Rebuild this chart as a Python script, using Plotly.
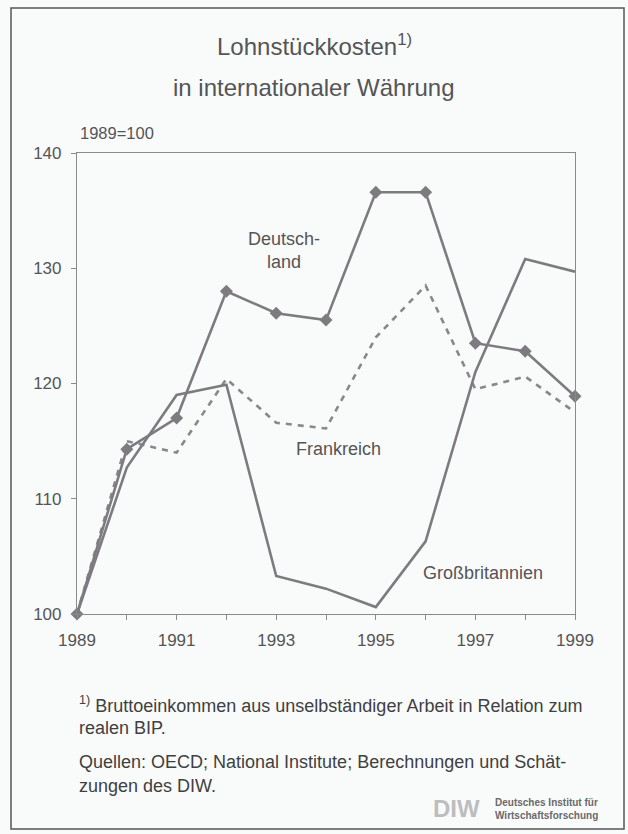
import plotly.graph_objects as go

years = [1989, 1990, 1991, 1992, 1993, 1994, 1995, 1996, 1997, 1998, 1999]
deutschland = [100, 114.3, 117.0, 128.0, 126.1, 125.5, 136.6, 136.6, 123.5, 122.8, 118.9]
frankreich = [100, 115.0, 114.0, 120.4, 116.6, 116.1, 124.0, 128.5, 119.5, 120.6, 117.5]
grossbritannien = [100, 112.7, 119.0, 119.9, 103.3, 102.2, 100.6, 106.3, 121.0, 130.8, 129.7]
x_tick_vals = [1989, 1991, 1993, 1995, 1997, 1999]
x_tick_text = ["1989", "1991", "1993", "1995", "1997", "1999"]
y_tick_vals = [100, 110, 120, 130, 140]

W, H = 628, 834
FONT = "Liberation Sans, Arial, Helvetica, sans-serif"
LINE = "#7e7b80"
TXT = "#555456"
BG = "#f9fbfb"

def px(x):
    return x / W

def py(y):
    return 1 - y / H

fig = go.Figure()
fig.add_trace(go.Scatter(x=years, y=frankreich, mode="lines",
                         line=dict(color="#8a878c", width=2.6, dash="6px,6px"),
                         cliponaxis=False, showlegend=False))
fig.add_trace(go.Scatter(x=years, y=grossbritannien, mode="lines",
                         line=dict(color=LINE, width=2.6),
                         cliponaxis=False, showlegend=False))
fig.add_trace(go.Scatter(x=years, y=deutschland, mode="lines+markers",
                         line=dict(color=LINE, width=2.6),
                         marker=dict(symbol="diamond", size=10, color=LINE),
                         cliponaxis=False, showlegend=False))

axis_common = dict(showgrid=False, zeroline=False, showline=True, linecolor="#8a8a8a",
                   linewidth=1.2, mirror=True, ticks="outside", ticklen=5,
                   tickcolor="#8a8a8a", tickwidth=1, automargin=False,
                   tickfont=dict(family=FONT, size=17, color=TXT))

fig.update_layout(
    width=W, height=H,
    margin=dict(l=0, r=0, t=0, b=0, pad=0),
    paper_bgcolor=BG, plot_bgcolor=BG,
    template="none",
    xaxis=dict(range=[1989, 1999], domain=[px(77), px(575)],
               tickvals=x_tick_vals, ticktext=x_tick_text, ticklabelstandoff=5,
               minor=dict(ticks="outside", ticklen=5, tickcolor="#8a8a8a", dtick=1, tick0=1989,
                          showgrid=False),
               **axis_common),
    yaxis=dict(range=[100, 140], domain=[py(614), py(153)],
               tickvals=y_tick_vals, ticklabelstandoff=6, **axis_common),
)

ann = []
def text(x, y, s, size, xanchor="center", yanchor="middle", color=TXT, ref="paper", align="center"):
    if ref == "paper":
        ann.append(dict(x=px(x), y=py(y), xref="paper", yref="paper", text=s, showarrow=False,
                        xanchor=xanchor, yanchor=yanchor, align=align,
                        font=dict(family=FONT, size=size, color=color)))
    else:
        ann.append(dict(x=x, y=y, xref="x", yref="y", text=s, showarrow=False,
                        xanchor=xanchor, yanchor=yanchor, align=align,
                        font=dict(family=FONT, size=size, color=color)))

text(314, 45, "Lohnstückkosten<sup>1)</sup>", 24)
text(314, 87, "in internationaler Währung", 24)
text(78, 133, "1989=100", 16.5, xanchor="left")

text(1993.15, 131.5, "Deutsch-<br>land", 18, ref="data")
text(1994.25, 114.3, "Frankreich", 18, ref="data")
text(1997.15, 103.6, "Großbritannien", 18, ref="data")

FN = "#403f41"
text(77, 704, "<sup>1)</sup> Bruttoeinkommen aus unselbständiger Arbeit in Relation zum", 18, xanchor="left", color=FN)
text(77, 728, "realen BIP.", 18, xanchor="left", color=FN)
text(77, 762, "Quellen: OECD; National Institute; Berechnungen und Schät-", 18, xanchor="left", color=FN)
text(77, 786, "zungen des DIW.", 18, xanchor="left", color=FN)

text(431, 808, "<b>DIW</b>", 24, xanchor="left", color="#bdbdbf")
text(493, 809, "<b>Deutsches Institut für<br>Wirtschaftsforschung</b>", 10, xanchor="left", color="#6a696b", align="left")

fig.update_layout(annotations=ann)

fig.add_shape(type="rect", xref="paper", yref="paper",
              x0=px(11), x1=px(624), y0=py(829), y1=py(8),
              line=dict(color="#555", width=1.5), fillcolor="rgba(0,0,0,0)", layer="below")

fig.write_html("out.html", config={"displayModeBar": False},
               post_script="document.body.style.margin='0';document.body.style.padding='0';")
